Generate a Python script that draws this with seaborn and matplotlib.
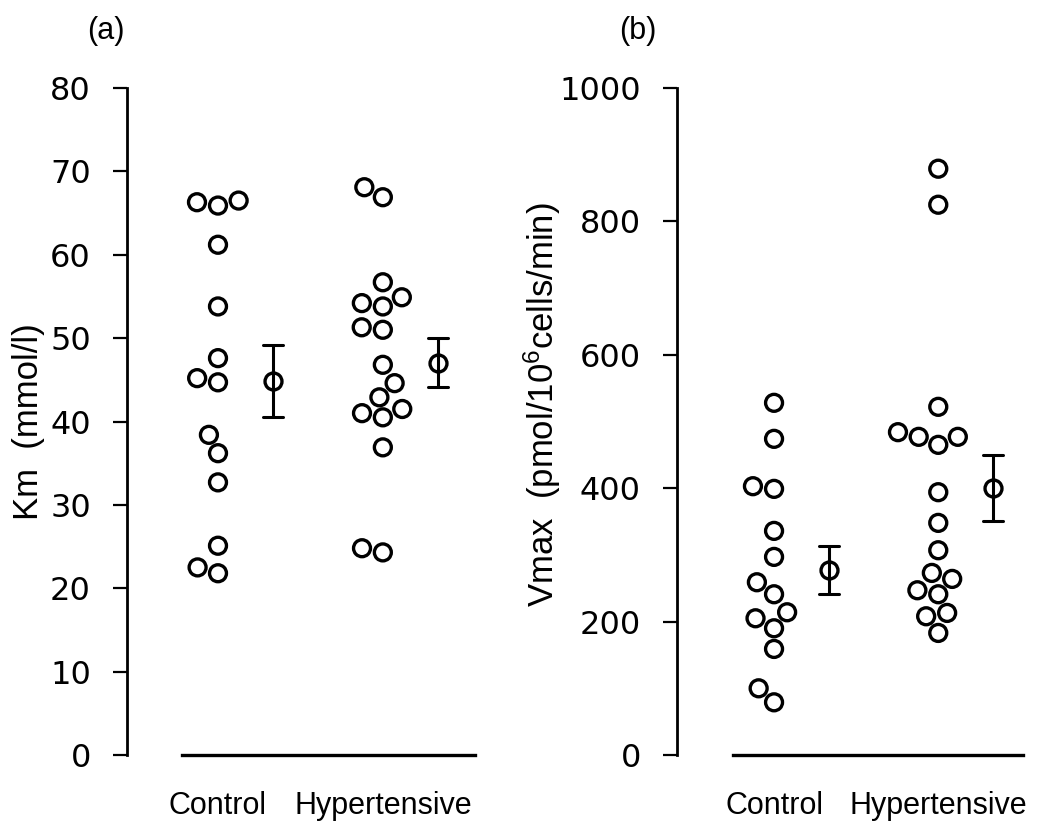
import matplotlib
matplotlib.use("Agg")
import matplotlib.pyplot as plt
import matplotlib.transforms as mtransforms
import pandas as pd
import seaborn as sns

# values
groups = ["Control", "Hypertensive"]

km_control = [65.9, 66.3, 66.5, 61.2, 53.8, 47.6, 44.7, 45.2, 38.4, 36.2, 32.7, 25.1, 22.5, 21.8]
km_hypertensive = [66.9, 68.1, 56.7, 54.9, 54.2, 53.8, 51.0, 51.3, 46.8, 44.6,
                   42.9, 40.5, 41.0, 41.5, 36.9, 24.8, 24.3]

vmax_control = [528, 474, 399, 403, 336, 297, 259, 241, 205, 214, 190, 159, 100, 79]
vmax_hypertensive = [879, 825, 522, 477, 484, 465, 477, 394, 348, 307,
                     273, 264, 247, 241, 208, 213, 183]

km_ticks = [0, 10, 20, 30, 40, 50, 60, 70, 80]
vmax_ticks = [0, 200, 400, 600, 800, 1000]

W, H, DPI = 1051, 823, 100


def px_rect(left, right, top, bottom):
    # figure-fraction rectangle from pixel edges (top-left origin)
    return [left / W, 1 - bottom / H, (right - left) / W, (bottom - top) / H]


def long_table(control, hypertensive):
    return pd.DataFrame({
        "group": [groups[0]] * len(control) + [groups[1]] * len(hypertensive),
        "value": control + hypertensive,
    })


def draw_panel(ax, df, ticks, xlim, base, ylabel, label_xy):
    sns.swarmplot(data=df, x="group", y="value", order=groups, ax=ax,
                  size=12.2, color="black", edgecolor="black", linewidth=2.4)
    for coll in ax.collections:
        coll.set_facecolor("none")

    n_before = len(ax.lines)
    sns.pointplot(data=df, x="group", y="value", order=groups, ax=ax,
                  errorbar="se", capsize=0.12, color="black",
                  linestyle="none", marker="o", markersize=12.2,
                  markerfacecolor="none", markeredgewidth=2.4,
                  err_kws={"linewidth": 2.2})
    # mean +/- SEM sits to the right of each group
    shift = mtransforms.ScaledTranslation(55 / DPI, 0, ax.figure.dpi_scale_trans)
    for line in list(ax.lines)[n_before:]:
        line.set_transform(line.get_transform() + shift)

    ax.set_xlim(*xlim)
    ax.set_ylim(ticks[0], ticks[-1])
    ax.set_yticks(ticks)
    ax.set_xlabel("")
    ax.set_ylabel(ylabel, fontsize=25)
    ax.yaxis.set_label_coords(*label_xy)

    sns.despine(ax=ax)
    ax.spines["left"].set_linewidth(2.0)
    ax.spines["bottom"].set_linewidth(2.4)
    ax.spines["bottom"].set_bounds(*base)
    ax.tick_params(axis="y", direction="out", length=10, width=1.6, pad=16,
                   labelsize=23, color="black", labelcolor="black")
    ax.tick_params(axis="x", length=0, pad=26, labelsize=22, labelcolor="black")
    for t in ax.get_yticklabels():
        t.set_family("DejaVu Sans")


sns.set_style("ticks")
plt.rcParams["font.family"] = ["Liberation Sans", "DejaVu Sans"]
plt.rcParams["text.color"] = "black"
plt.rcParams["axes.labelcolor"] = "black"
plt.rcParams["axes.edgecolor"] = "black"
plt.rcParams["mathtext.fontset"] = "custom"
plt.rcParams["mathtext.rm"] = "Liberation Sans"
plt.rcParams["mathtext.it"] = "Liberation Sans:italic"

fig = plt.figure(figsize=(W / DPI, H / DPI), dpi=DPI)
ax_a = fig.add_axes(px_rect(127, 490, 88, 755))
ax_b = fig.add_axes(px_rect(677, 1045, 88, 755))

draw_panel(ax_a, long_table(km_control, km_hypertensive), km_ticks,
           (-0.552, 1.65), (-0.218, 1.558), "Km  (mmol/l)", (-0.225, 0.5))
draw_panel(ax_b, long_table(vmax_control, vmax_hypertensive), vmax_ticks,
           (-0.591, 1.65), (-0.25, 1.518), "Vmax  (pmol/10$^6$cells/min)", (-0.31, 0.525))

fig.text(106 / W, 1 - 31 / H, "(a)", ha="center", va="center", fontsize=22)
fig.text(638 / W, 1 - 31 / H, "(b)", ha="center", va="center", fontsize=22)

fig.savefig("out.png", dpi=DPI)
